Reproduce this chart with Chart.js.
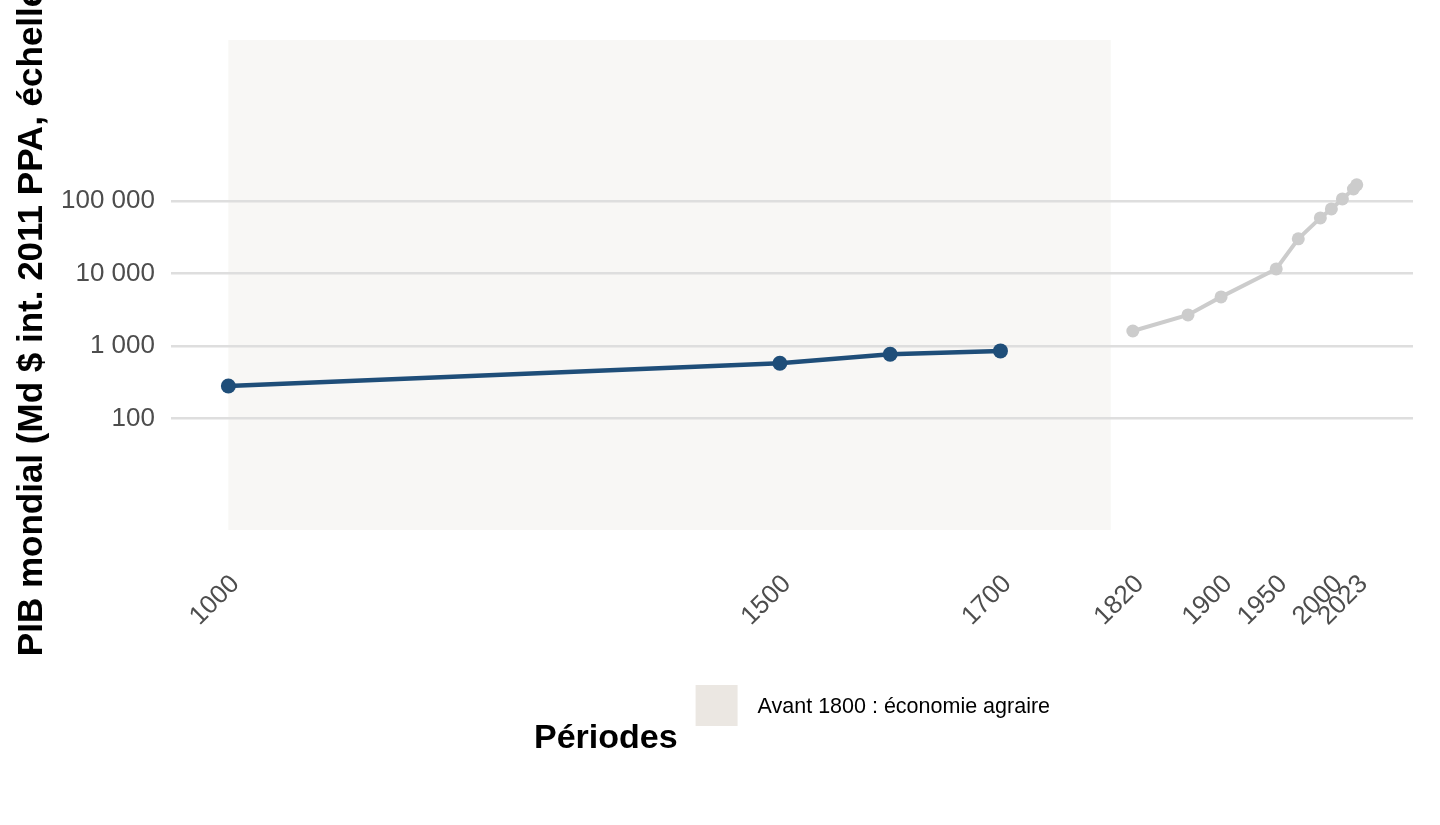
<!DOCTYPE html>
<html lang="fr">
<head>
<meta charset="utf-8">
<title>PIB mondial</title>
<script src="https://cdn.jsdelivr.net/npm/chart.js@4.4.1/dist/chart.umd.min.js"></script>
<style>
  html, body { margin: 0; padding: 0; background: #fff; }
  #wrap { width: 1440px; height: 825px; position: relative; }
</style>
</head>
<body>
<div id="wrap"><canvas id="myChart"></canvas></div>
<script>
// valeurs (Md $ int. 2011 PPA)
const agraireYears = [1000, 1500, 1600, 1700];
const agraireGdp = [282, 580, 773, 859];
const moderneYears = [1820, 1870, 1900, 1950, 1970, 1990, 2000, 2010, 2020, 2023];
const moderneGdp = [1620, 2700, 4790, 11650, 30300, 59000, 78600, 108000, 148000, 169000];

const xTickYears = [1000, 1500, 1700, 1820, 1900, 1950, 2000, 2023];
const yTickValues = [100, 1000, 10000, 100000];
const periodeAgraire = [1000, 1800];
const legendTitle = 'Périodes';
const legendLabel = 'Avant 1800 : économie agraire';

const FONT = "'Liberation Sans', Arial, sans-serif";

function toPoints(xs, ys) {
  let pts = [];
  for (let i = 0; i < xs.length; i++) {
    pts.push({ x: xs[i], y: ys[i] });
  }
  return pts;
}

function frNumber(v) {
  return String(v).replace(/\B(?=(\d{3})+(?!\d))/g, ' ');
}

// bande grisée 1000-1800, sous la grille
const bandePlugin = {
  id: 'bande',
  beforeDraw(chart) {
    const { ctx, chartArea, scales } = chart;
    const x0 = scales.x.getPixelForValue(periodeAgraire[0]);
    const x1 = scales.x.getPixelForValue(periodeAgraire[1]);
    ctx.save();
    ctx.fillStyle = '#f8f7f5';
    ctx.fillRect(x0, chartArea.top, x1 - x0, chartArea.bottom - chartArea.top);
    ctx.restore();
  }
};

// légende en bas : titre à gauche, puis la clé
const legendePlugin = {
  id: 'legende',
  afterDraw(chart) {
    const { ctx, chartArea } = chart;
    ctx.save();
    ctx.font = 'bold 34px ' + FONT;
    const titleW = ctx.measureText(legendTitle).width;
    ctx.font = '21.5px ' + FONT;
    const labelW = ctx.measureText(legendLabel).width;
    const keySize = 42;
    const total = titleW + 18 + keySize + 20 + labelW;
    let x = (chartArea.left + chartArea.right) / 2 - total / 2;

    ctx.fillStyle = '#000';
    ctx.textBaseline = 'alphabetic';
    ctx.font = 'bold 34px ' + FONT;
    ctx.fillText(legendTitle, x, 748);
    x += titleW + 18;

    ctx.fillStyle = '#ebe7e2';
    ctx.fillRect(x, 685, keySize, 41);
    x += keySize + 20;

    ctx.fillStyle = '#000';
    ctx.font = '21.5px ' + FONT;
    ctx.fillText(legendLabel, x, 713);
    ctx.restore();
  }
};

const ctx = document.getElementById('myChart');
new Chart(ctx, {
  type: 'line',
  data: {
    datasets: [
      {
        label: 'Économie agraire',
        data: toPoints(agraireYears, agraireGdp),
        borderColor: '#1f4e79',
        backgroundColor: '#1f4e79',
        borderWidth: 4.5,
        pointRadius: 7.5,
        pointHoverRadius: 7.5,
        pointBorderWidth: 0,
        tension: 0
      },
      {
        label: 'Économie moderne',
        data: toPoints(moderneYears, moderneGdp),
        borderColor: '#cccccc',
        backgroundColor: '#cccccc',
        borderWidth: 4,
        pointRadius: 6.5,
        pointHoverRadius: 6.5,
        pointBorderWidth: 0,
        tension: 0
      }
    ]
  },
  options: {
    responsive: true,
    maintainAspectRatio: false,
    animation: false,
    layout: { padding: { top: 40, right: 27, bottom: 0, left: 0 } },
    plugins: {
      legend: { display: false },
      tooltip: { enabled: false }
    },
    scales: {
      x: {
        type: 'linear',
        min: 948,
        max: 2074,
        grid: { display: false, drawTicks: false },
        border: { display: false },
        afterBuildTicks: (scale) => {
          scale.ticks = xTickYears.map(v => ({ value: v }));
        },
        afterFit: (scale) => { scale.height = 295; },
        ticks: {
          autoSkip: false,
          minRotation: 45,
          maxRotation: 45,
          labelOffset: 7,
          padding: 39,
          color: '#4d4d4d',
          font: { family: FONT, size: 26 },
          callback: (v) => String(v)
        }
      },
      y: {
        type: 'logarithmic',
        min: 2.89,
        max: 1.69e7,
        grid: { color: '#dedede', lineWidth: 2.5, drawTicks: false },
        border: { display: false },
        afterBuildTicks: (scale) => {
          scale.ticks = yTickValues.map(v => ({ value: v }));
        },
        afterFit: (scale) => { scale.width = 171; },
        ticks: {
          padding: 16,
          color: '#4d4d4d',
          font: { family: FONT, size: 26 },
          callback: (v) => frNumber(v)
        },
        title: {
          display: true,
          text: 'PIB mondial (Md $ int. 2011 PPA, échelle log)',
          color: '#000',
          font: { family: FONT, size: 35, weight: 'bold' },
          padding: { top: 11, bottom: 0 }
        }
      }
    }
  },
  plugins: [bandePlugin, legendePlugin]
});
</script>
</body>
</html>
